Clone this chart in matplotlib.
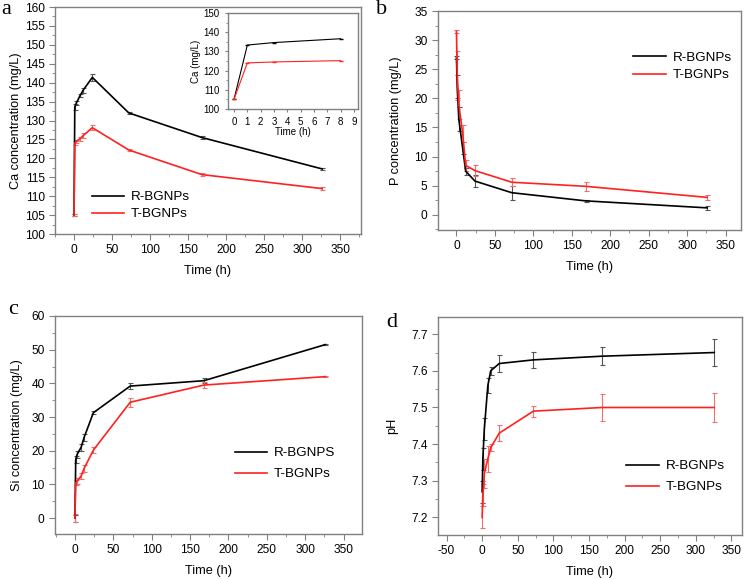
import matplotlib
matplotlib.use("Agg")
import matplotlib.pyplot as plt
from matplotlib.ticker import MultipleLocator, AutoMinorLocator

# ── Data ───────────────────────────────────────────────────────────────────
time_h = [0, 1, 3, 8, 12, 24, 72, 168, 326]

ca_r     = [105, 133.5, 134.6, 136.6, 138.0, 141.4, 132.0, 125.5, 117.2]
ca_r_err = [0.3, 0.8, 0.6, 0.5, 0.7, 1.0, 0.3, 0.3, 0.3]
ca_t     = [105, 124.0, 124.5, 125.2, 126.0, 128.1, 122.2, 115.7, 112.0]
ca_t_err = [0.3, 0.5, 0.4, 0.5, 0.7, 0.7, 0.3, 0.5, 0.3]

inset_t    = [0, 1, 3, 8]
inset_ca_r = [105, 133.3, 134.6, 136.6]
inset_ca_t = [105, 124.0, 124.5, 125.2]

p_r     = [27.0, 22.0, 16.5, 11.5, 7.5, 5.8, 3.8, 2.4, 1.2]
p_r_err = [0.3, 2.0, 2.1, 1.0, 0.6, 1.0, 1.2, 0.2, 0.3]
p_t     = [31.5, 24.0, 19.0, 14.0, 8.5, 7.6, 5.6, 4.9, 3.0]
p_t_err = [0.3, 4.2, 2.5, 1.5, 1.0, 0.9, 0.7, 0.8, 0.4]

si_r     = [0, 17.5, 19.0, 21.0, 24.0, 31.3, 39.2, 40.8, 51.5]
si_r_err = [1.0, 1.0, 1.0, 1.0, 1.0, 0.5, 1.0, 0.7, 0.2]
si_t     = [0, 10.5, 11.0, 12.5, 14.8, 20.2, 34.4, 39.5, 42.0]
si_t_err = [1.2, 0.8, 0.8, 1.0, 1.0, 1.0, 1.3, 0.8, 0.2]

ph_r     = [7.27, 7.36, 7.44, 7.56, 7.60, 7.62, 7.63, 7.64, 7.65]
ph_r_err = [0.03, 0.03, 0.03, 0.02, 0.01, 0.022, 0.022, 0.025, 0.037]
ph_t     = [7.20, 7.26, 7.32, 7.36, 7.39, 7.43, 7.49, 7.50, 7.50]
ph_t_err = [0.03, 0.03, 0.04, 0.035, 0.01, 0.022, 0.015, 0.038, 0.04]

plt.rcParams["font.family"] = ["Liberation Sans", "DejaVu Sans"]
plt.rcParams["axes.unicode_minus"] = False

W, H = 745, 579
fig = plt.figure(figsize=(W / 100, H / 100), dpi=100)

SPINE = "#808080"
RED = "#ff2020"


def px_axes(l, t, r, b):
    return fig.add_axes([l / W, 1 - b / H, (r - l) / W, (b - t) / H])


def style(ax, fs=8.6):
    for s in ax.spines.values():
        s.set_color(SPINE)
        s.set_linewidth(1.0)
    ax.tick_params(which="both", direction="out", colors=SPINE, labelcolor="black",
                   labelsize=fs, top=False, right=False)
    ax.tick_params(which="major", length=4)
    ax.tick_params(which="minor", length=2)
    ax.xaxis.set_minor_locator(AutoMinorLocator(2))
    ax.yaxis.set_minor_locator(AutoMinorLocator(2))


def draw(ax, x, yr, er, yt, et):
    cr = ax.errorbar(x, yr, yerr=er, color="black", ecolor="#555555", lw=1.2,
                     elinewidth=0.8, capsize=1.8, capthick=0.8)
    ct = ax.errorbar(x, yt, yerr=et, color=RED, ecolor="#f07070", lw=1.2,
                     elinewidth=0.8, capsize=1.8, capthick=0.8)
    return [cr[0], ct[0]]


def legend(ax, handles, labels, x, y, spacing=0.35):
    ax.legend(handles, labels, loc="upper left", bbox_to_anchor=(x, y), frameon=False,
              fontsize=9.7, handlelength=2.4, handletextpad=0.5, labelspacing=spacing,
              borderpad=0, borderaxespad=0)


# ── a: Ca ──────────────────────────────────────────────────────────────────
ax = px_axes(55, 7, 361, 234)
hs = draw(ax, time_h, ca_r, ca_r_err, ca_t, ca_t_err)
ax.set_xlim(-25, 377)
ax.set_ylim(100, 160)
ax.xaxis.set_major_locator(MultipleLocator(50))
ax.yaxis.set_major_locator(MultipleLocator(5))
style(ax)
ax.set_xlabel("Time (h)", fontsize=9.2, labelpad=6)
ax.set_ylabel("Ca concentration (mg/L)", fontsize=9.2, labelpad=2)
legend(ax, hs, ["R-BGNPs", "T-BGNPs"], 0.12, 0.19)

ins = px_axes(228, 13, 358, 109)
ins.plot(inset_t, inset_ca_r, color="black", lw=0.8, marker="_", ms=3)
ins.plot(inset_t, inset_ca_t, color=RED, lw=0.8, marker="_", ms=3)
ins.set_xlim(-0.45, 9.3)
ins.set_ylim(100, 150)
ins.xaxis.set_major_locator(MultipleLocator(1))
ins.yaxis.set_major_locator(MultipleLocator(10))
style(ins, fs=7)
ins.xaxis.set_minor_locator(AutoMinorLocator(1))
ins.tick_params(which="major", length=2.5)
ins.tick_params(which="minor", length=1.5)
ins.set_xlabel("Time (h)", fontsize=7, labelpad=0)
ins.set_ylabel("Ca (mg/L)", fontsize=7, labelpad=2)

# ── b: P ───────────────────────────────────────────────────────────────────
ax = px_axes(438, 11, 741, 230)
hs = draw(ax, time_h, p_r, p_r_err, p_t, p_t_err)
ax.set_xlim(-24, 370)
ax.set_ylim(-2.6, 35)
ax.xaxis.set_major_locator(MultipleLocator(50))
ax.yaxis.set_major_locator(MultipleLocator(5))
style(ax)
ax.set_xlabel("Time (h)", fontsize=9.2, labelpad=6)
ax.set_ylabel("P concentration (mg/L)", fontsize=9.2, labelpad=9)
legend(ax, hs, ["R-BGNPs", "T-BGNPs"], 0.645, 0.817, spacing=0.4)

# ── c: Si ──────────────────────────────────────────────────────────────────
ax = px_axes(55, 316, 362, 534)
hs = draw(ax, time_h, si_r, si_r_err, si_t, si_t_err)
ax.set_xlim(-26, 374)
ax.set_ylim(-4.7, 60)
ax.xaxis.set_major_locator(MultipleLocator(50))
ax.yaxis.set_major_locator(MultipleLocator(10))
style(ax)
ax.set_xlabel("Time (h)", fontsize=9.2, labelpad=6)
ax.set_ylabel("Si concentration (mg/L)", fontsize=9.2, labelpad=6)
legend(ax, hs, ["R-BGNPS", "T-BGNPs"], 0.585, 0.40, spacing=0.65)

# ── d: pH ──────────────────────────────────────────────────────────────────
ax = px_axes(438, 317, 742, 535)
hs = draw(ax, time_h, ph_r, ph_r_err, ph_t, ph_t_err)
ax.set_xlim(-62, 365)
ax.set_ylim(7.152, 7.747)
ax.xaxis.set_major_locator(MultipleLocator(50))
ax.yaxis.set_major_locator(MultipleLocator(0.1))
style(ax)
ax.set_xlabel("Time (h)", fontsize=9.2, labelpad=6)
ax.set_ylabel("pH", fontsize=9.2, labelpad=9)
legend(ax, hs, ["R-BGNPs", "T-BGNPs"], 0.62, 0.345, spacing=0.65)

# ── panel letters ──────────────────────────────────────────────────────────
for s, x, y in [("a", 6, 10), ("b", 382, 10), ("c", 13, 310), ("d", 392, 322)]:
    fig.text(x / W, 1 - y / H, s, fontsize=16, family="Liberation Serif",
             ha="center", va="center")

fig.savefig("out.png", dpi=100)
